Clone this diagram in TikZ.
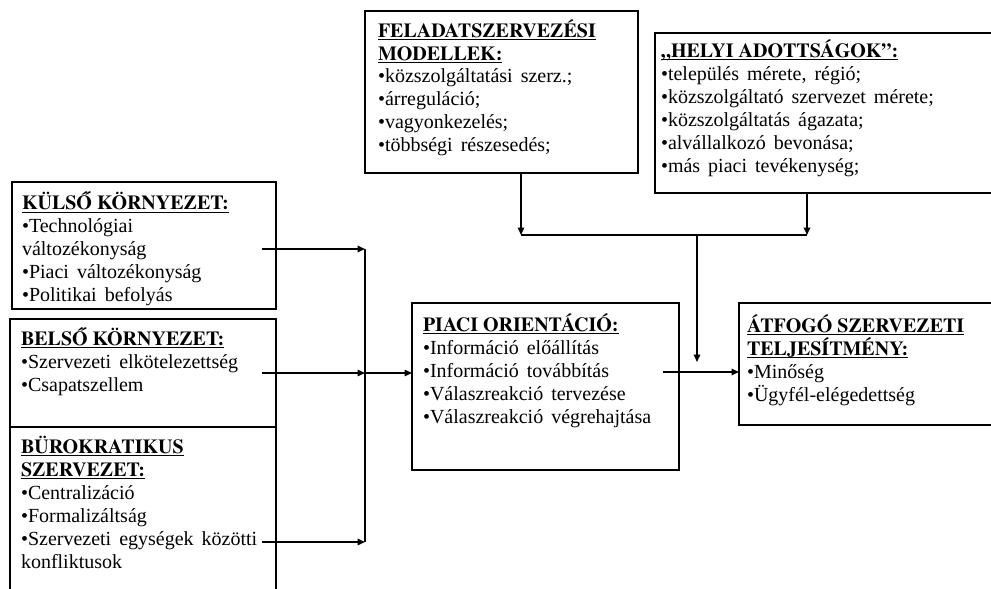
\documentclass[tikz,border=0pt]{standalone}
\usepackage{fontspec}
\setmainfont{Liberation Serif}
\newfontfamily\hdfont{texgyretermes-bold.otf}
\usetikzlibrary{arrows.meta}
\newcommand{\txtlines}[1]{\vtop{\baselineskip=23pt\lineskiplimit=-50pt\lineskip=0pt\spaceskip=8pt plus 2pt\tabskip=0pt\halign{##\hfil\cr#1\crcr}}}
\newcommand{\hd}[1]{{\hdfont\spaceskip=0pt\setbox0=\hbox{#1}\rlap{\vrule height -2pt depth 3.4pt width \wd0}\box0}}
\begin{document}
\begin{tikzpicture}[x=1pt,y=-1pt,
  box/.style={draw, line width=1.5pt, fill=white, inner sep=0pt, outer sep=0pt, anchor=north west},
  btm/.style={line width=2.8pt},
  txt/.style={anchor=base west, inner sep=0pt, outer sep=0pt, font=\fontsize{20pt}{23pt}\selectfont},
  conn/.style={-{Triangle[length=7.5pt,width=6.5pt]}}
]
\fill[white] (0,0) rectangle (991,589);
\useasboundingbox (0,0) rectangle (991,589);

% boxes
\node[box, minimum width=273pt, minimum height=162pt] (feladat) at (365,11) {};
\node[box, minimum width=345pt, minimum height=160pt] (helyi) at (655,33) {};
\node[box, minimum width=264pt, minimum height=127pt] (kulso) at (12,182) {};
\node[box, minimum width=266pt, minimum height=108pt] (belso) at (10,319) {};
\node[box, minimum width=266pt, minimum height=180pt] (buro) at (10,427) {};
\node[box, minimum width=267pt, minimum height=167pt] (piaci) at (412,303) {};
\node[box, minimum width=260pt, minimum height=122pt] (atfogo) at (739,303) {};

\foreach \b in {feladat,helyi,kulso,belso,piaci,atfogo}
  \draw[btm] (\b.south west) -- (\b.south east);

% texts
\node[txt] (feladat-t) at (378,37) {\txtlines{\hd{FELADATSZERVEZÉSI}\cr
\hd{MODELLEK:}\cr
•közszolgáltatási szerz.;\cr
•árreguláció;\cr
•vagyonkezelés;\cr
•többségi részesedés;}};

\node[txt] (helyi-t) at (661,57) {\txtlines{\hd{„HELYI ADOTTSÁGOK”:}\cr
•település mérete, régió;\cr
•közszolgáltató szervezet mérete;\cr
•közszolgáltatás ágazata;\cr
•alvállalkozó bevonása;\cr
•más piaci tevékenység;}};

\node[txt] (kulso-t) at (22,209.5) {\txtlines{\hd{KÜLSŐ KÖRNYEZET:}\cr
•Technológiai\cr
változékonyság\cr
•Piaci változékonyság\cr
•Politikai befolyás}};

\node[txt] (belso-t) at (21,345) {\txtlines{\hd{BELSŐ KÖRNYEZET:}\cr
•Szervezeti elkötelezettség\cr
•Csapatszellem}};

\node[txt] (buro-t) at (21,453) {\txtlines{\hd{BÜROKRATIKUS}\cr
\hd{SZERVEZET:}\cr
•Centralizáció\cr
•Formalizáltság\cr
•Szervezeti egységek közötti\cr
konfliktusok}};

\node[txt] (piaci-t) at (423,331) {\txtlines{\hd{PIACI ORIENTÁCIÓ:}\cr
•Információ előállítás\cr
•Információ továbbítás\cr
•Válaszreakció tervezése\cr
•Válaszreakció végrehajtása}};

\node[txt] (atfogo-t) at (747,332) {\txtlines{\hd{ÁTFOGÓ SZERVEZETI}\cr
\hd{TELJESÍTMÉNY:}\cr
•Minőség\cr
•Ügyfél-elégedettség}};

% connector points
\coordinate (kulso-o) at (262,249);
\coordinate (belso-o) at (262,373);
\coordinate (buro-o) at (262,542);
\coordinate (jt) at (365,249);
\coordinate (jm) at (365,373);
\coordinate (jb) at (365,542);
\coordinate (feladat-o) at (521,173);
\coordinate (helyi-o) at (807,193);
\coordinate (fj) at (521,235);
\coordinate (hj) at (807,235);
\coordinate (mj) at (697,235);
\coordinate (mt) at (697,362);
\coordinate (piaci-o) at (663,372);

% connectors
\draw[line width=1.8pt] (jt) -- (jb);
\draw[conn, line width=2.4pt] (kulso-o) -- (jt);
\draw[conn, line width=1.4pt] (belso-o) -- (jm);
\draw[conn, line width=1.4pt] (jm) -- (jm -| piaci.west);
\draw[conn, line width=1.8pt] (buro-o) -- (jb);
\draw[conn, line width=1.4pt] (feladat-o) -- (fj);
\draw[conn, line width=1.8pt] (helyi-o) -- (hj);
\draw[line width=1.8pt] (fj) -- (hj);
\draw[conn, line width=1.6pt] (mj) -- (mt);
\draw[conn, line width=2.4pt] (piaci-o) -- (piaci-o -| atfogo.west);
\end{tikzpicture}
\end{document}
